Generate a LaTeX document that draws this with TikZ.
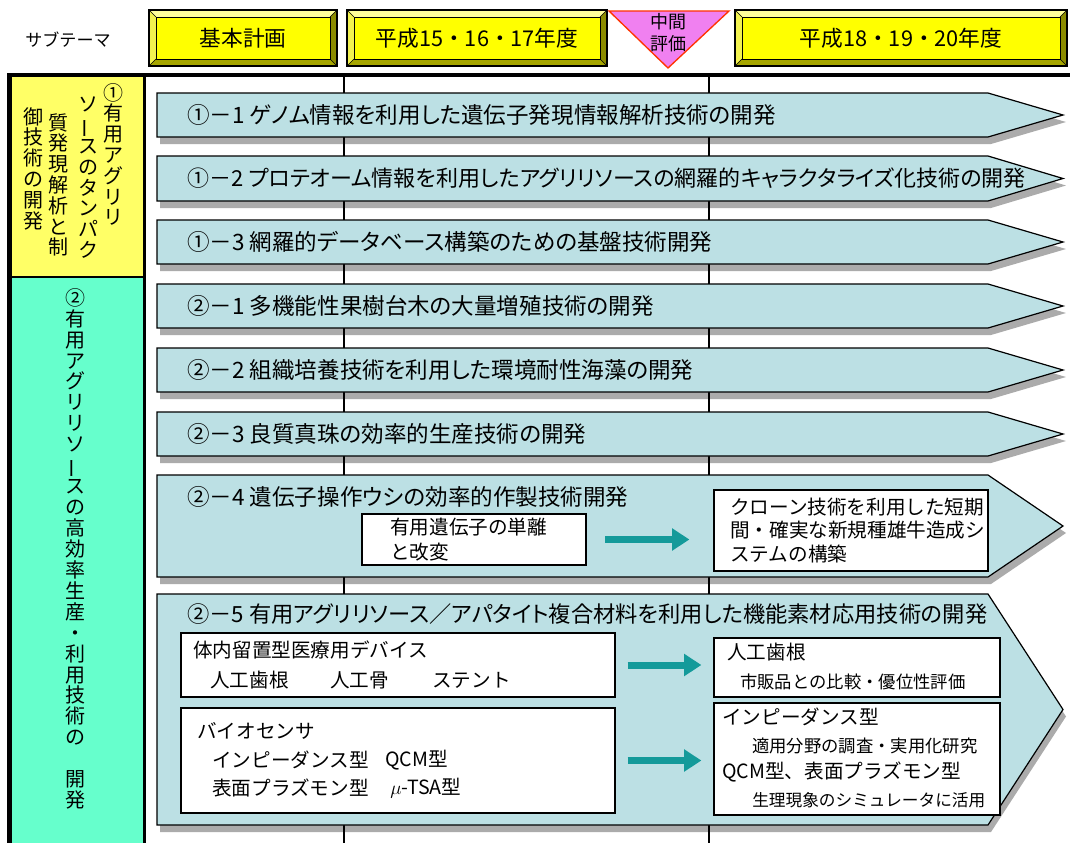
\documentclass[tikz,border=0pt]{standalone}
\usepackage{fontspec}
\setmainfont{Noto Sans CJK JP}
\newfontfamily\rowfont[RawFeature=+palt]{Noto Sans CJK JP}
\usepackage{graphicx}
\usetikzlibrary{arrows.meta,fit}
\definecolor{rowblue}{HTML}{BCE0E4}
\definecolor{lyellow}{HTML}{FFFF66}
\definecolor{lcyan}{HTML}{66FFCC}
\definecolor{hyellow}{HTML}{FFFF00}
\definecolor{bevlight}{HTML}{FFFF99}
\definecolor{bevleft}{HTML}{F2F250}
\definecolor{bevdark}{HTML}{8C8C00}
\definecolor{bevbot}{HTML}{A6A600}
\definecolor{midpink}{HTML}{F080F0}
\definecolor{midred}{HTML}{FF3300}
\definecolor{tealar}{HTML}{149A9A}
\newcommand\vbar{\rotatebox[origin=c]{90}{ー}}
\newcommand\rowshape[3]{%
  \fill[rowshadow] (160,#2+7) -- (991,#2+7) -- (1066,{(#2+#3)/2+7}) -- (991,#3+7) -- (160,#3+7) -- cycle;
  \filldraw[rowshape] (157,#2) -- (988,#2) -- (1063,{(#2+#3)/2}) -- (988,#3) -- (157,#3) -- cycle;
  \coordinate (#1) at (157,{(#2+#3)/2});
}
\newcommand\bevelbox[6]{%
  \fill[hyellow] (#2,#3) rectangle (#4,#5);
  \fill[bevlight] (#2,#3) -- (#4,#3) -- (#4-7,#3+7) -- (#2+7,#3+7) -- cycle;
  \fill[bevleft] (#2,#3) -- (#2+7,#3+7) -- (#2+7,#5-7) -- (#2,#5) -- cycle;
  \fill[bevdark] (#4,#3) -- (#4,#5) -- (#4-7,#5-7) -- (#4-7,#3+7) -- cycle;
  \fill[bevbot] (#2,#5) -- (#4,#5) -- (#4-7,#5-7) -- (#2+7,#5-7) -- cycle;
  \draw[line width=0.9pt] (#2,#3) rectangle (#4,#5);
  \draw[line width=0.6pt] (#2+7,#3+7) rectangle (#4-7,#5-7);
  \draw[line width=0.5pt] (#2,#3) -- (#2+7,#3+7) (#4,#3) -- (#4-7,#3+7) (#2,#5) -- (#2+7,#5-7) (#4,#5) -- (#4-7,#5-7);
  \node[htext] (#1) at ({(#2+#4)/2},{(#3+#5)/2}) {#6};
}
\begin{document}
\begin{tikzpicture}[x=0.75pt,y=-0.75pt,
  rowshape/.style={fill=rowblue,draw=black,line width=0.9pt},
  rowshadow/.style={fill=black,opacity=0.33},
  rowtitle/.style={anchor=west,inner sep=0pt,font=\rowfont\fontsize{16.9pt}{19pt}\selectfont},
  ibox/.style={draw=black,fill=white,line width=0.9pt,inner sep=0pt},
  itext/.style={anchor=west,inner sep=0pt,font=\fontsize{14.7pt}{17pt}\selectfont},
  stext/.style={anchor=west,inner sep=0pt,font=\fontsize{13pt}{15pt}\selectfont},
  tarrow/.style={draw=tealar,line width=5.25pt,-{Triangle[length=13pt,width=16pt]}},
  vcol/.style={anchor=north,inner sep=0pt,align=center,font=\fontsize{15pt}{15.6pt}\selectfont},
  htext/.style={inner sep=0pt,font=\fontsize{16.3pt}{19pt}\selectfont}
]
\useasboundingbox (0,0) rectangle (1070,843);
\fill[white] (0,0) rectangle (1070,843);

% header
\node[inner sep=0pt,font=\fontsize{12.8pt}{15pt}\selectfont] (sub) at (68,40) {サブテーマ};
\bevelbox{h1}{149}{10}{337}{66}{基本計画}
\bevelbox{h2}{347}{10}{607}{66}{平成15・16・17年度}
\filldraw[fill=midpink,draw=midred,line width=1pt] (609,11) -- (729,11) -- (668,68) -- cycle;
\node[inner sep=0pt,align=center,font=\fontsize{13.5pt}{16.5pt}\selectfont] (mid) at (668,33) {中間\\評価};
\bevelbox{h3}{735}{10}{1067}{66}{平成18・19・20年度}

% timeline lines
\draw[line width=1pt] (344,77) -- (344,843);
\draw[line width=1pt] (709,77) -- (709,843);

% left column
\fill[lyellow] (12,77) rectangle (143,277);
\fill[lcyan] (12,277) rectangle (143,843);
\draw[line width=0.8pt] (12,277) -- (143,277);
\draw[line width=4pt] (9.5,73) -- (9.5,843);
\draw[line width=2pt] (144.5,77) -- (144.5,843);
\draw[line width=3.5pt] (7,75) -- (1070,75);

\node[vcol] (c1a) at (113,83) {①\\有\\用\\ア\\グ\\リ\\リ};
\node[vcol] (c1b) at (88,97) {ソ\\\vbar\\ス\\の\\タ\\ン\\パ\\ク};
\node[vcol] (c1c) at (58,113) {質\\発\\現\\解\\析\\と\\制};
\node[vcol] (c1d) at (33,107) {御\\技\\術\\の\\開\\発};
\node[vcol,font=\fontsize{15pt}{15.7pt}\selectfont] (c2) at (75,288) {②\\有\\用\\ア\\グ\\リ\\リ\\ソ\\\vbar\\ス\\の\\高\\効\\率\\生\\産\\・\\利\\用\\技\\術\\の\\　\\開\\発};

% rows
\rowshape{p1}{93}{137}
\rowshape{p2}{156}{201}
\rowshape{p3}{220}{264}
\rowshape{p4}{284}{328}
\rowshape{p5}{348}{392}
\rowshape{p6}{412}{456}
\rowshape{p7}{475}{577}
\rowshape{p8}{594}{825}

\node[rowtitle] (t1) at (187,115) {①－1 ゲノム情報を利用した遺伝子発現情報解析技術の開発};
\node[rowtitle,font=\rowfont\fontsize{16.5pt}{19pt}\selectfont] (t2) at (187,178) {①－2 プロテオーム情報を利用したアグリリソースの網羅的キャラクタライズ化技術の開発};
\node[rowtitle] (t3) at (187,242) {①－3 網羅的データベース構築のための基盤技術開発};
\node[rowtitle] (t4) at (187,306) {②－1 多機能性果樹台木の大量増殖技術の開発};
\node[rowtitle] (t5) at (187,370) {②－2 組織培養技術を利用した環境耐性海藻の開発};
\node[rowtitle] (t6) at (187,434) {②－3 良質真珠の効率的生産技術の開発};
\node[rowtitle] (t7) at (187,497) {②－4 遺伝子操作ウシの効率的作製技術開発};
\node[rowtitle,font=\rowfont\fontsize{16.7pt}{19pt}\selectfont] (t8) at (187,614) {②－5 有用アグリリソース／アパタイト複合材料を利用した機能素材応用技術の開発};

% row 7 inner boxes
\node[ibox,fit={(362,514) (586,565)}] (gL) {};
\node[ibox,fit={(714,490) (988,571)}] (gR) {};
\node[itext] (gL1) at (390,527) {有用遺伝子の単離};
\node[itext] (gL2) at (390,552) {と改変};
\node[itext] (gR1) at (730,507) {クローン技術を利用した短期};
\node[itext] (gR2) at (730,530) {間・確実な新規種雄牛造成シ};
\node[itext] (gR3) at (730,554) {ステムの構築};
\draw[tarrow,shorten <=14pt,shorten >=18pt] (gL.east) -- (gL.east -| gR.west);

% row 8 inner boxes
\node[ibox,fit={(181,633) (615,697)}] (bA) {};
\node[ibox,fit={(181,708) (615,813)}] (bB) {};
\node[ibox,fit={(714,638) (1000,697)}] (bC) {};
\node[ibox,fit={(714,703) (1000,815)}] (bD) {};
\node[itext] (a1) at (193,650) {体内留置型医療用デバイス};
\node[itext] (a2) at (210,680) {人工歯根};
\node[itext] (a3) at (330,680) {人工骨};
\node[itext] (a4) at (432,680) {ステント};
\node[itext] (b1) at (197,731) {バイオセンサ};
\node[itext] (b2) at (212,760) {インピーダンス型};
\node[itext] (b3) at (385,760) {QCM型};
\node[itext] (b4) at (212,788) {表面プラズモン型};
\node[itext] (b5) at (390,788) {$\mu$-TSA型};
\node[itext] (c1) at (727,652) {人工歯根};
\node[stext] (c2t) at (740,682) {市販品との比較・優位性評価};
\node[itext] (d1) at (722,717) {インピーダンス型};
\node[stext] (d2) at (752,746) {適用分野の調査・実用化研究};
\node[itext] (d3) at (722,772) {QCM型、表面プラズモン型};
\node[stext,font=\fontsize{12.5pt}{15pt}\selectfont] (d4) at (752,800) {生理現象のシミュレータに活用};
\draw[tarrow,shorten <=9pt,shorten >=9pt] (bA.east) -- (bA.east -| bC.west);
\draw[tarrow,shorten <=9pt,shorten >=9pt] (bB.east) -- (bB.east -| bD.west);
\end{tikzpicture}
\end{document}
